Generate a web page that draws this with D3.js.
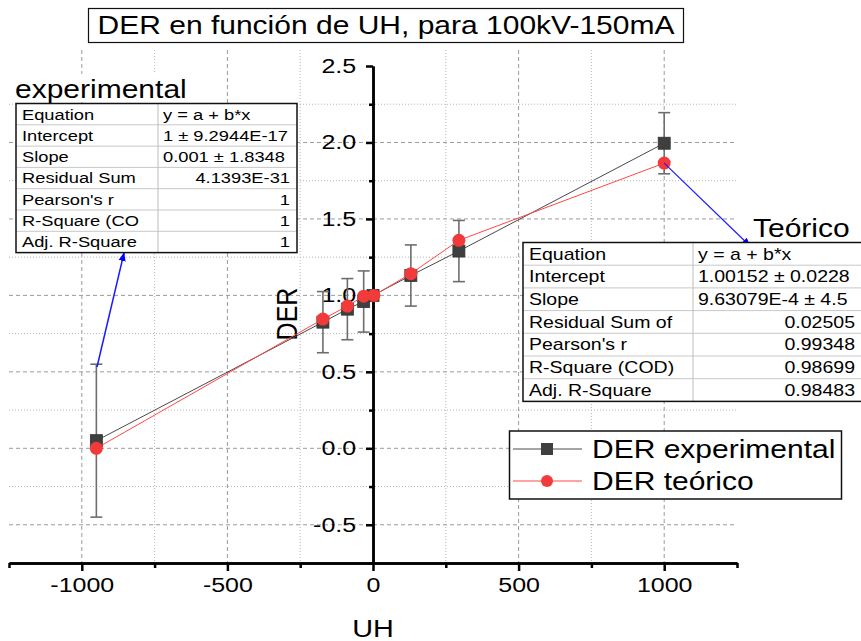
<!DOCTYPE html>
<html>
<head>
<meta charset="utf-8">
<script src="https://cdn.jsdelivr.net/npm/d3@7"></script>
<style>
  html, body { margin: 0; padding: 0; background: #fff; }
  svg { display: block; font-family: "Liberation Sans", Arial, sans-serif; }
</style>
</head>
<body>
<svg id="chart" width="861" height="641"></svg>
<script>
// ---------------- data ----------------
const uh = [-950, -172, -88, -32, 0, 130, 295, 1000];
const derExp = [0.05, 0.825, 0.91, 0.96, 1.0, 1.13, 1.29, 1.995];
const derExpErr = [0.5, 0.2, 0.2, 0.2, 0, 0.2, 0.2, 0.2];
const uhTeo = [-950, -172, -88, -32, 3, 130, 295, 1000];
const derTeo = [0.0, 0.845, 0.93, 0.995, 1.0, 1.142, 1.36, 1.865];

const xMajor = [-1000, -500, 0, 500, 1000];
const xMinor = [-1250, -750, -250, 250, 750, 1250];
const yMajor = [-0.5, 0.0, 0.5, 1.0, 1.5, 2.0, 2.5];
const yMinor = [-0.75, -0.25, 0.25, 0.75, 1.25, 1.75, 2.25];

const titleText = "DER en función de UH, para 100kV-150mA";
const xTitle = "UH";
const yTitle = "DER";
const seriesNames = ["DER experimental", "DER teórico"];

const tableExpLabel = "experimental";
const tableExpRows = ["Equation", "Intercept", "Slope", "Residual Sum", "Pearson's r", "R-Square (CO", "Adj. R-Square"];
const tableExpVals = ["y = a + b*x", "1 ± 9.2944E-17", "0.001 ± 1.8348", "4.1393E-31", "1", "1", "1"];
const tableTeoLabel = "Teórico";
const tableTeoRows = ["Equation", "Intercept", "Slope", "Residual Sum of", "Pearson's r", "R-Square (COD)", "Adj. R-Square"];
const tableTeoVals = ["y = a + b*x", "1.00152 ± 0.0228", "9.63079E-4 ± 4.5", "0.02505", "0.99348", "0.98699", "0.98483"];

// ---------------- layout ----------------
const svg = d3.select("#chart");
const X0 = 9, X1 = 737, Y0 = 563, Y1 = 66, GRID_TOP = 50;
const x = d3.scaleLinear().domain([-1250, 1250]).range([X0, X1]);
const y = d3.scaleLinear().domain([-0.75, 2.5]).range([Y0, Y1]);
const SX = 1.22; // horizontal stretch of glyphs in the reference

function txt(g, px, py, s, size, anchor, sx, weight) {
  return g.append("text")
    .attr("transform", `translate(${px},${py}) scale(${sx || SX},1)`)
    .attr("text-anchor", anchor || "start")
    .attr("font-size", size)
    .attr("fill", "#000")
    .text(s);
}

// ---------------- grid ----------------
const grid = svg.append("g");
xMajor.filter(v => v !== 0).forEach(v => {
  grid.append("line").attr("x1", x(v)).attr("x2", x(v)).attr("y1", GRID_TOP).attr("y2", Y0)
    .attr("stroke", "#9a9a9a").attr("stroke-width", 1).attr("stroke-dasharray", "4,3");
});
xMinor.filter(v => Math.abs(v) !== 1250).forEach(v => {
  grid.append("line").attr("x1", x(v)).attr("x2", x(v)).attr("y1", GRID_TOP).attr("y2", Y0)
    .attr("stroke", "#b8b8b8").attr("stroke-width", 1).attr("stroke-dasharray", "1,2");
});
yMajor.filter(v => v < 2.5).forEach(v => {
  grid.append("line").attr("x1", X0).attr("x2", X1).attr("y1", y(v)).attr("y2", y(v))
    .attr("stroke", "#9a9a9a").attr("stroke-width", 1).attr("stroke-dasharray", "4,3");
});
yMinor.filter(v => v > -0.75).forEach(v => {
  grid.append("line").attr("x1", X0).attr("x2", X1).attr("y1", y(v)).attr("y2", y(v))
    .attr("stroke", "#b8b8b8").attr("stroke-width", 1).attr("stroke-dasharray", "1,2");
});

// ---------------- axes ----------------
const xAxisMinor = d3.axisBottom(x).tickValues(xMinor).tickSize(5).tickSizeOuter(0).tickFormat("");
const xAxis = d3.axisBottom(x).tickValues(xMajor).tickSize(8).tickSizeOuter(0).tickPadding(7)
  .tickFormat(d3.format("d"));
const gxm = svg.append("g").attr("transform", `translate(0,${Y0})`).call(xAxisMinor);
const gx = svg.append("g").attr("transform", `translate(0,${Y0})`).call(xAxis);
[gxm, gx].forEach(g => {
  g.select(".domain").attr("stroke", "#000").attr("stroke-width", 2.5);
  g.selectAll(".tick line").attr("stroke", "#000").attr("stroke-width", 2.5);
});
gx.selectAll(".tick text").attr("font-size", 20).attr("fill", "#000")
  .attr("font-family", "'Liberation Sans', Arial, sans-serif")
  .attr("transform", `scale(1.25,1)`)
  .text(d => d < 0 ? "-" + Math.abs(d) : d);

const yAxisMinor = d3.axisLeft(y).tickValues(yMinor).tickSize(4).tickSizeOuter(0).tickFormat("");
const yAxis = d3.axisLeft(y).tickValues(yMajor).tickSize(7).tickSizeOuter(0).tickPadding(6)
  .tickFormat(d3.format(".1f"));
const gym = svg.append("g").attr("transform", `translate(${x(0)},0)`).call(yAxisMinor);
const gy = svg.append("g").attr("transform", `translate(${x(0)},0)`).call(yAxis);
[gym, gy].forEach(g => {
  g.select(".domain").attr("stroke", "#000").attr("stroke-width", 2.5);
  g.selectAll(".tick line").attr("stroke", "#000").attr("stroke-width", 2.5);
});
gy.selectAll(".tick text").attr("font-size", 20).attr("fill", "#000")
  .attr("font-family", "'Liberation Sans', Arial, sans-serif")
  .attr("x", -13.5).attr("transform", `scale(1.25,1)`)
  .text(d => d < 0 ? "-" + Math.abs(d).toFixed(1) : d.toFixed(1));

// axis titles
txt(svg, x(0), 637, xTitle, 24, "middle", 1.2);
svg.append("text")
  .attr("transform", `translate(297,314) rotate(-90) scale(1,1.2)`)
  .attr("text-anchor", "middle").attr("font-size", 25).attr("fill", "#000")
  .text(yTitle);

// ---------------- series ----------------
const expPts = uh.map((u, i) => ({ u, v: derExp[i], e: derExpErr[i] }));
const teoPts = uhTeo.map((u, i) => ({ u, v: derTeo[i] }));
const line = d3.line().x(d => x(d.u)).y(d => y(d.v));

svg.append("path").datum(expPts).attr("d", line)
  .attr("fill", "none").attr("stroke", "#4a4a4a").attr("stroke-width", 1);

const eb = svg.append("g").attr("stroke", "#6e6e6e").attr("stroke-width", 1.6);
expPts.filter(d => d.e > 0).forEach(d => {
  eb.append("line").attr("x1", x(d.u)).attr("x2", x(d.u)).attr("y1", y(d.v - d.e)).attr("y2", y(d.v + d.e));
  [d.v - d.e, d.v + d.e].forEach(v => {
    eb.append("line").attr("x1", x(d.u) - 6).attr("x2", x(d.u) + 6).attr("y1", y(v)).attr("y2", y(v));
  });
});

svg.append("g").selectAll("rect").data(expPts).join("rect")
  .attr("x", d => x(d.u) - 6).attr("y", d => y(d.v) - 6)
  .attr("width", 12).attr("height", 12)
  .attr("fill", "#3f3f3f").attr("stroke", "#333").attr("stroke-width", 0.8);

svg.append("path").datum(teoPts).attr("d", line)
  .attr("fill", "none").attr("stroke", "#ff4747").attr("stroke-width", 1);
svg.append("g").selectAll("circle").data(teoPts).join("circle")
  .attr("cx", d => x(d.u)).attr("cy", d => y(d.v)).attr("r", 6.5)
  .attr("fill", "#f23a3a");

// ---------------- arrows ----------------
const defs = svg.append("defs");
defs.append("marker").attr("id", "ah").attr("viewBox", "0 0 10 10")
  .attr("refX", 9).attr("refY", 5).attr("markerWidth", 9).attr("markerHeight", 9)
  .attr("markerUnits", "userSpaceOnUse").attr("orient", "auto")
  .append("path").attr("d", "M0,1 L10,5 L0,9 Z").attr("fill", "#0000ff");
svg.append("line").attr("x1", 97).attr("y1", 367).attr("x2", 124).attr("y2", 253)
  .attr("stroke", "#1a1aff").attr("stroke-width", 1.5).attr("marker-end", "url(#ah)");
svg.append("line").attr("x1", x(1000)).attr("y1", y(1.865)).attr("x2", 750).attr("y2", 246)
  .attr("stroke", "#1a1aff").attr("stroke-width", 1.2).attr("marker-end", "url(#ah)");

// ---------------- tables ----------------
function table(left, top, right, divider, rowH, rows, vals, rightAlignFrom, fsize) {
  const g = svg.append("g");
  const h = rowH * rows.length;
  g.append("rect").attr("x", left).attr("y", top).attr("width", right - left).attr("height", h)
    .attr("fill", "#fff");
  for (let i = 1; i < rows.length; i++) {
    g.append("line").attr("x1", left).attr("x2", right).attr("y1", top + i * rowH).attr("y2", top + i * rowH)
      .attr("stroke", "#c8c8c8").attr("stroke-width", 1);
  }
  g.append("line").attr("x1", divider).attr("x2", divider).attr("y1", top).attr("y2", top + h)
    .attr("stroke", "#bdbdbd").attr("stroke-width", 1);
  g.append("rect").attr("x", left).attr("y", top).attr("width", right - left).attr("height", h)
    .attr("fill", "none").attr("stroke", "#111").attr("stroke-width", 1.5);
  rows.forEach((r, i) => {
    const by = top + i * rowH + rowH / 2 + fsize * 0.36;
    txt(g, left + 6, by, r, fsize, "start");
    if (i < rightAlignFrom) txt(g, divider + 5, by, vals[i], fsize, "start");
    else txt(g, right - 7, by, vals[i], fsize, "end");
  });
  return g;
}

// left table label
svg.append("rect").attr("x", 14).attr("y", 74).attr("width", 178).attr("height", 28).attr("fill", "#fff");
txt(svg, 15, 98, tableExpLabel, 25, "start", 1.2);
table(16, 103.5, 297, 158, 21.3, tableExpRows, tableExpVals, 3, 15);

// right table
svg.append("rect").attr("x", 750).attr("y", 215).attr("width", 108).attr("height", 26).attr("fill", "#fff");
txt(svg, 753, 237, tableTeoLabel, 25, "start", 1.2);
table(523, 242.5, 862, 693, 22.7, tableTeoRows, tableTeoVals, 3, 16);

// ---------------- legend ----------------
const lg = svg.append("g");
lg.append("rect").attr("x", 509.5).attr("y", 431).attr("width", 332).attr("height", 68)
  .attr("fill", "#fff").attr("stroke", "#111").attr("stroke-width", 1.5);
[[449, "#4a4a4a", "rect"], [481, "#ff4747", "circle"]].forEach(([ly, col, shape], i) => {
  lg.append("line").attr("x1", 513).attr("x2", 582).attr("y1", ly).attr("y2", ly)
    .attr("stroke", col).attr("stroke-width", 1);
  if (shape === "rect") lg.append("rect").attr("x", 541).attr("y", ly - 6).attr("width", 12).attr("height", 12).attr("fill", "#3f3f3f");
  else lg.append("circle").attr("cx", 547).attr("cy", ly).attr("r", 6).attr("fill", "#f23a3a");
  txt(lg, 592, ly + 9, seriesNames[i], 25, "start", 1.2);
});

// ---------------- title ----------------
svg.append("rect").attr("x", 88.5).attr("y", 8.5).attr("width", 595).attr("height", 34)
  .attr("fill", "#fff").attr("stroke", "#111").attr("stroke-width", 1.2);
txt(svg, 386, 34, titleText, 25, "middle", 1.2);
</script>
</body>
</html>
